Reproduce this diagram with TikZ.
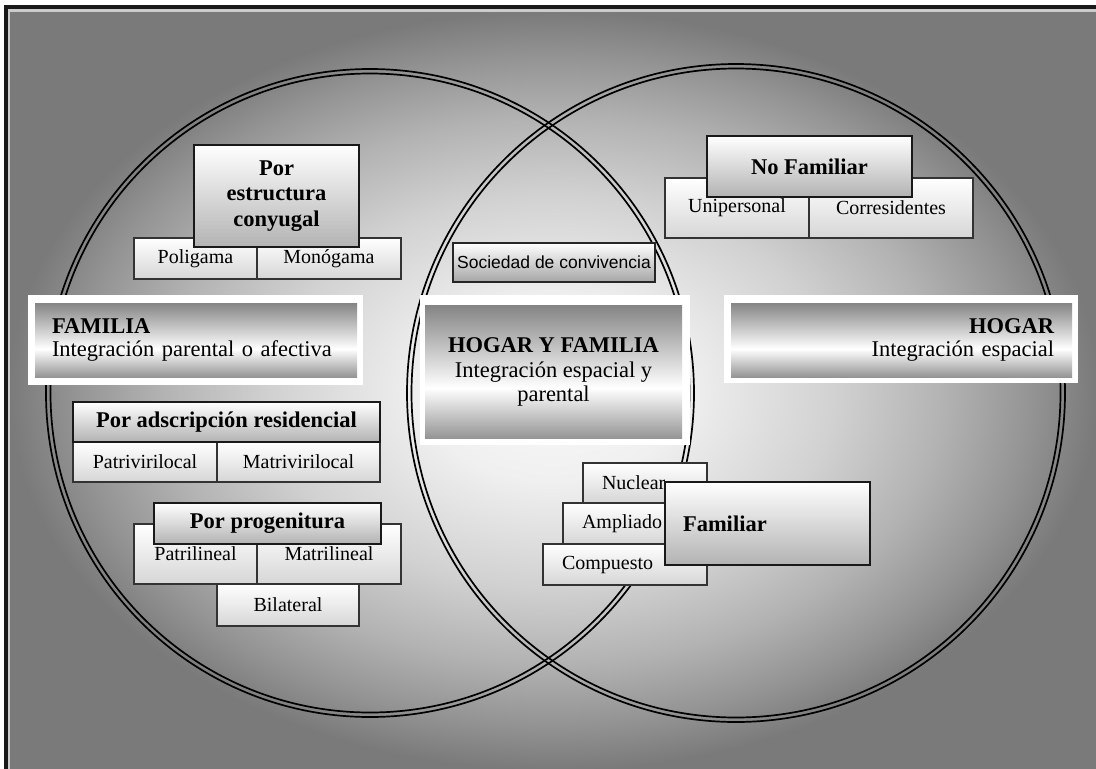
\documentclass[tikz,border=0pt]{standalone}
\usepackage{fontspec}
\setmainfont{Liberation Serif}
\newfontfamily\sansfnt{Liberation Sans}
\newcommand{\titlefnt}{\fontsize{22.5}{25.5}\selectfont\bfseries}
\newcommand{\itemfnt}{\fontsize{20}{22}\selectfont}
\newcommand{\bandfnt}{\fontsize{22.5}{23.5}\selectfont}
\newcommand{\socfnt}{\sansfnt\fontsize{17.5}{19}\selectfont}
\pgfdeclareradialshading{glow}{\pgfpoint{0bp}{0bp}}{color(0bp)=(black!2); color(6bp)=(black!6); color(13bp)=(black!18); color(18bp)=(black!30); color(22bp)=(black!42); color(25bp)=(black!52); color(50bp)=(black!52)}
\pgfdeclareverticalshading{band}{100bp}{color(0bp)=(black!42); color(25bp)=(black!42); color(44bp)=(white); color(75bp)=(black!48); color(100bp)=(black!48)}
\begin{document}
\begin{tikzpicture}[x=1pt, y=-1pt,
  ring/.style={line width=1.7pt, draw=black},
  headbox/.style={draw=black!90, line width=2.6pt, top color=white, bottom color=black!30, inner sep=0pt, font=\titlefnt, align=center},
  itembox/.style={draw=black!80, line width=1.1pt, top color=white, bottom color=black!16, inner sep=0pt, font=\itemfnt, align=center},
  socbox/.style={draw=black!85, line width=1.8pt, top color=white, bottom color=black!35, inner sep=0pt, font=\socfnt},
  whiteframe/.style={fill=white, inner sep=0pt},
  bandbox/.style={shade, shading=band, inner sep=0pt, font=\bandfnt}]
\useasboundingbox (0,0) rectangle (1096,769);
\clip (0,0) rectangle (1096,769);
\fill[white] (0,0) rectangle (1096,769);
\fill[black!52] (10,12) rectangle (1096,769);
\shade[shading=glow] (10,12) rectangle (1096,769);
\fill[black!90] (4,5) rectangle (1096,9);
\fill[black!90] (4,5) rectangle (8,769);
\fill[black!20] (8,9) rectangle (1096,12);
\fill[black!20] (8,9) rectangle (10,769);

\draw[ring] (370,393) circle[radius=319.5pt];
\draw[ring] (370,393) circle[radius=324pt];
\draw[ring] (736,393) circle[radius=324.5pt];
\draw[ring] (736,393) circle[radius=329pt];

\node[itembox, minimum width=123pt, minimum height=41pt] (poligama) at (195.5,258.5) {Poligama};
\node[itembox, minimum width=144pt, minimum height=41pt] (monogama) at (329,258.5) {Monógama};
\node[headbox, minimum width=165pt, minimum height=102pt] (conyugal) at (276.5,196) {Por\\estructura\\conyugal};

\node[whiteframe, minimum width=335pt, minimum height=90pt] (famframe) at (195.5,340) {};
\node[bandbox, minimum height=74pt, text width=288pt, inner xsep=17pt, align=left] (familia) at (196,340) {{\bfseries FAMILIA}\\Integración parental o afectiva};

\node[itembox, minimum width=144pt, minimum height=40pt] (patrivirilocal) at (145,462) {Patrivirilocal};
\node[itembox, minimum width=163pt, minimum height=40pt] (matrivirilocal) at (298.5,462) {Matrivirilocal};
\node[headbox, minimum width=307pt, minimum height=40pt] (residencial) at (226.5,422) {Por adscripción residencial};

\node[itembox, minimum width=123pt, minimum height=60pt] (patrilineal) at (195.5,554) {Patrilineal};
\node[itembox, minimum width=144pt, minimum height=60pt] (matrilineal) at (329,554) {Matrilineal};
\node[itembox, minimum width=142pt, minimum height=42pt] (bilateral) at (288,605) {Bilateral};
\node[headbox, minimum width=227pt, minimum height=41pt] (progenitura) at (267.5,523.5) {Por progenitura};

\node[socbox, minimum width=202pt, minimum height=39pt] (sociedad) at (554,262.5) {Sociedad de convivencia};

\node[whiteframe, minimum width=270pt, minimum height=150pt] (ambosframe) at (555,370) {};
\node[bandbox, minimum width=257pt, minimum height=133pt, align=center, font=\fontsize{22.5}{24.5}\selectfont] (ambos) at (553.5,372) {{\bfseries HOGAR Y FAMILIA}\\Integración espacial y\\parental};

\node[itembox, minimum width=144pt, minimum height=60pt] (unipersonal) at (737,208) {Unipersonal};
\node[itembox, minimum width=164pt, minimum height=60pt] (corresidentes) at (891,208) {Corresidentes};
\node[headbox, minimum width=205pt, minimum height=61pt] (nofamiliar) at (809.5,166.5) {No Familiar};

\node[whiteframe, minimum width=354pt, minimum height=88pt] (hogarframe) at (901,339) {};
\node[bandbox, minimum height=74pt, text width=305pt, inner xsep=18pt, align=right] (hogar) at (901.5,340) {{\bfseries HOGAR}\\Integración espacial};

\node[itembox, minimum height=40pt, text width=86pt, inner xsep=19pt, align=left] (nuclear) at (645,483) {Nuclear};
\node[itembox, minimum height=41pt, text width=106pt, inner xsep=19pt, align=left] (ampliado) at (635,523.5) {Ampliado};
\node[itembox, minimum height=41pt, text width=126pt, inner xsep=19pt, align=left] (compuesto) at (625,564.5) {Compuesto};
\node[headbox, minimum height=83pt, text width=169pt, inner xsep=18pt, align=left] (familiar) at (767.5,523.5) {Familiar};
\end{tikzpicture}
\end{document}
